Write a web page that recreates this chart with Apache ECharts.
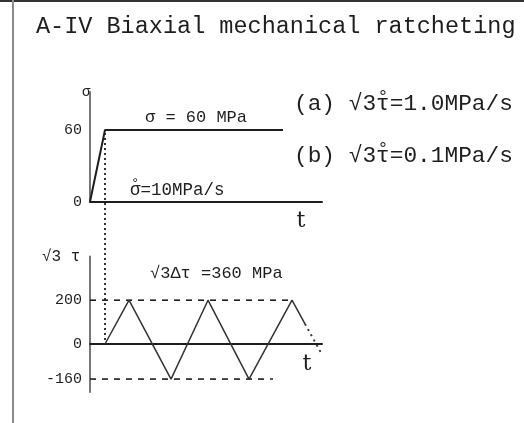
<!DOCTYPE html>
<html>
<head>
<meta charset="utf-8">
<script src="https://cdn.jsdelivr.net/npm/echarts@6/dist/echarts.min.js"></script>
<style>
html, body { margin: 0; padding: 0; background: #fff; }
#main { width: 524px; height: 423px; }
</style>
</head>
<body>
<div id="main"></div>
<script>
// Upper panel: axial stress σ (MPa) ramped up at 10 MPa/s, then held
const sigmaPath = [[0, 0], [15, 60], [193, 60]];
const SIGMA_HOLD = 60;
const SIGMA_RATE = 10;
const sigmaTicks = [0, 60];

// Lower panel: equivalent shear stress √3τ (MPa), triangular cycling
const tauPath = [[15, 0], [39, 200], [81, -160], [118, 200], [159, -160], [202, 200], [215, 92]];
const tauTail = [[215, 92], [231, -40]];
const TAU_MAX = 200;
const TAU_MIN = -160;
const tauMaxGuide = [[0, 200], [200, 200]];
const tauMinGuide = [[0, -160], [183, -160]];
const tauTicks = [200, 0, -160];

// Shear rates of the two loading cases (MPa/s)
const caseLabels = ['(a)', '(b)'];
const caseRates = ['1.0', '0.1'];

// Time at which the axial stress reaches its hold value
const holdStart = 15;

const INK = '#1e1e1e';
const MONO = '"Liberation Mono", "DejaVu Sans Mono", monospace';
const ADVANCE = 0.6; // Liberation Mono advance width, in em

const chart = echarts.init(document.getElementById('main'), null, { renderer: 'canvas' });

const axisLabelStyle = (ticks) => ({
  show: true,
  margin: 8,
  color: INK,
  fontFamily: MONO,
  fontSize: 15,
  formatter: (v) => (ticks.indexOf(v) >= 0 ? String(v) : '')
});

chart.setOption({
  animation: false,
  backgroundColor: '#fff',
  grid: [
    { left: 90, top: 91.7, width: 232, height: 110 },
    { left: 90, top: 256.4, width: 232, height: 135.8 }
  ],
  xAxis: [
    {
      gridIndex: 0, type: 'value', min: 0, max: 232,
      axisLine: { show: true, onZero: true, lineStyle: { color: INK, width: 2 } },
      axisTick: { show: false }, axisLabel: { show: false }, splitLine: { show: false }
    },
    {
      gridIndex: 1, type: 'value', min: 0, max: 232,
      axisLine: { show: true, onZero: true, lineStyle: { color: INK, width: 2 } },
      axisTick: { show: false }, axisLabel: { show: false }, splitLine: { show: false }
    }
  ],
  yAxis: [
    {
      gridIndex: 0, type: 'value', min: 0, max: 92, interval: 20,
      axisLine: { show: true, onZero: false, lineStyle: { color: '#555', width: 1.6 } },
      axisTick: { show: false }, splitLine: { show: false },
      axisLabel: axisLabelStyle(sigmaTicks)
    },
    {
      gridIndex: 1, type: 'value', min: -220, max: 400, interval: 20,
      axisLine: { show: true, onZero: false, lineStyle: { color: '#555', width: 1.6 } },
      axisTick: { show: false }, splitLine: { show: false },
      axisLabel: axisLabelStyle(tauTicks)
    }
  ],
  series: [
    {
      type: 'line', xAxisIndex: 0, yAxisIndex: 0, data: sigmaPath,
      symbol: 'none', lineStyle: { color: INK, width: 2 }
    },
    {
      type: 'line', xAxisIndex: 1, yAxisIndex: 1, data: tauMaxGuide,
      symbol: 'none', lineStyle: { color: INK, width: 1.6, type: [6, 6] }
    },
    {
      type: 'line', xAxisIndex: 1, yAxisIndex: 1, data: tauMinGuide,
      symbol: 'none', lineStyle: { color: INK, width: 1.6, type: [6, 6] }
    },
    {
      type: 'line', xAxisIndex: 1, yAxisIndex: 1, data: tauPath,
      symbol: 'none', lineStyle: { color: '#333', width: 1.5 }
    },
    {
      type: 'line', xAxisIndex: 1, yAxisIndex: 1, data: tauTail,
      symbol: 'none', lineStyle: { color: '#333', width: 2, type: [2, 4] }
    }
  ]
});

// Dotted guide from the end of the σ ramp down to the start of shear cycling
const pTop = chart.convertToPixel({ gridIndex: 0 }, [holdStart, SIGMA_HOLD]);
const pBottom = chart.convertToPixel({ gridIndex: 1 }, [holdStart, 0]);

const txt = (text, x, y, size, align) => ({
  type: 'text', x: x, y: y, silent: true,
  style: {
    text: text, fill: INK,
    font: size + 'px ' + MONO,
    align: align || 'left', verticalAlign: 'middle'
  }
});

// A monospace string with a rate ring (°) set over the character at index k
const rated = (text, k, x, y, size) => [
  txt(text, x, y, size),
  txt('°', x + (k + 0.5) * ADVANCE * size, y - 0.3 * size, size * 0.8, 'center')
];

let caseText = [];
caseLabels.forEach((c, i) => {
  caseText = caseText.concat(rated(c + ' √3τ=' + caseRates[i] + 'MPa/s', 6, 294, i === 0 ? 104 : 156, 22.8));
});

chart.setOption({
  graphic: [
    // frame
    { type: 'line', silent: true, shape: { x1: 0, y1: 1, x2: 524, y2: 1 }, style: { stroke: '#333', lineWidth: 2 } },
    { type: 'line', silent: true, shape: { x1: 13, y1: 0, x2: 13, y2: 423 }, style: { stroke: '#8a8a8a', lineWidth: 2 } },
    // ramp-to-cycle guide
    {
      type: 'line', silent: true,
      shape: { x1: pTop[0], y1: pTop[1] + 3, x2: pBottom[0], y2: pBottom[1] - 3 },
      style: { stroke: '#333', lineWidth: 2, lineDash: [2, 3] }
    },
    txt('A-IV Biaxial mechanical ratcheting', 36, 27, 23.5),
    txt('σ', 82, 92, 14),
    txt('σ = ' + SIGMA_HOLD + ' MPa', 145, 117, 17),
    txt('√3 τ', 42, 257, 16),
    txt('√3Δτ =' + (TAU_MAX - TAU_MIN) + ' MPa', 150, 273, 17),
    {
      type: 'text', x: 301, y: 221, silent: true,
      style: { text: 't', fill: INK, font: '22px "DejaVu Serif", serif', align: 'center', verticalAlign: 'middle' }
    },
    {
      type: 'text', x: 307, y: 364, silent: true,
      style: { text: 't', fill: INK, font: '22px "DejaVu Serif", serif', align: 'center', verticalAlign: 'middle' }
    }
  ].concat(rated('σ=' + SIGMA_RATE + 'MPa/s', 0, 130, 190, 17.5), caseText)
});
</script>
</body>
</html>
